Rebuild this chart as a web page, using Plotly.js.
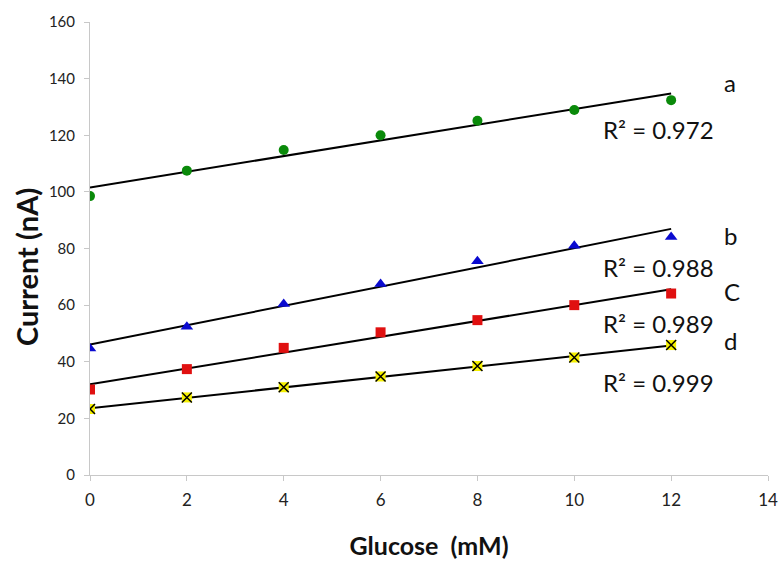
<!DOCTYPE html>
<html>
<head>
<meta charset="utf-8">
<script src="https://cdn.plot.ly/plotly-3.0.1.min.js"></script>
<style>html,body{margin:0;padding:0;background:#fff;}#chart{width:782px;height:567px;}</style>
</head>
<body>
<div id="chart"></div>
<script>
// Data
const glucose = [0, 2, 4, 6, 8, 10, 12];
const seriesA = [98.5, 107.5, 114.8, 120.0, 125.1, 128.9, 132.4];
const seriesB = [44.7, 52.4, 60.4, 67.5, 75.5, 81.0, 84.1];
const seriesC = [30.2, 37.4, 44.9, 50.4, 54.7, 60.0, 64.1];
const seriesD = [23.3, 27.4, 31.0, 34.8, 38.5, 41.5, 45.9];
const seriesLabels = ['a', 'b', 'C', 'd'];
const r2Labels = ['R\u00b2 = 0.972', 'R\u00b2 = 0.988', 'R\u00b2 = 0.989', 'R\u00b2 = 0.999'];
const xTicks = [0, 2, 4, 6, 8, 10, 12, 14];
const yTicks = [0, 20, 40, 60, 80, 100, 120, 140, 160];

function linFit(xs, ys) {
  const n = xs.length;
  const mx = xs.reduce((a, b) => a + b, 0) / n;
  const my = ys.reduce((a, b) => a + b, 0) / n;
  let sxy = 0, sxx = 0;
  for (let i = 0; i < n; i++) { sxy += (xs[i] - mx) * (ys[i] - my); sxx += (xs[i] - mx) ** 2; }
  const m = sxy / sxx, b = my - m * mx;
  const x0 = xs[0], x1 = xs[n - 1];
  return { x: [x0, x1], y: [m * x0 + b, m * x1 + b] };
}

const all = [seriesA, seriesB, seriesC, seriesD];
const traces = [];
all.forEach(s => {
  const f = linFit(glucose, s);
  traces.push({ x: f.x, y: f.y, mode: 'lines', line: { color: '#000', width: 2 }, hoverinfo: 'skip', showlegend: false });
});
traces.push({ x: glucose, y: seriesA, mode: 'markers', marker: { symbol: 'circle', size: 10, color: '#0a8a0a' }, showlegend: false });
traces.push({ x: glucose, y: seriesB, mode: 'markers', marker: { symbol: 'triangle-up', size: 11, color: '#0a0ad0' }, showlegend: false });
traces.push({ x: glucose, y: seriesC, mode: 'markers', marker: { symbol: 'square', size: 10, color: '#e01010' }, showlegend: false });
traces.push({ x: glucose, y: seriesD, mode: 'markers', marker: { symbol: 'square', size: 10, color: '#f5f000' }, showlegend: false });
traces.push({ x: glucose, y: seriesD, mode: 'markers', marker: { symbol: 'x-thin', size: 10, color: '#000', line: { color: '#000', width: 1.5 } }, showlegend: false });

const font = 'Lato, "Open Sans", sans-serif';
const labelPos = [[13.05, 138.5], [13.05, 84.7], [13.05, 64.8], [13.05, 47.5]];
const r2Pos = [[10.55, 122], [10.55, 73.2], [10.55, 53.5], [10.55, 32.5]];
const annotations = [];
seriesLabels.forEach((t, i) => {
  annotations.push({ x: labelPos[i][0], y: labelPos[i][1], text: t, showarrow: false, xanchor: 'left', font: { family: font, size: 24, color: '#111' } });
  annotations.push({ x: r2Pos[i][0], y: r2Pos[i][1], text: r2Labels[i], showarrow: false, xanchor: 'left', font: { family: font, size: 24, color: '#111' } });
});
annotations.push({
  xref: 'paper', yref: 'paper', x: -0.0944, y: 0.459, textangle: -90,
  text: '<b>Current (nA)</b>', showarrow: false, xanchor: 'center', yanchor: 'middle',
  font: { family: font, size: 29, color: '#111' }
});

const layout = {
  width: 782, height: 567,
  margin: { l: 90, r: 14, t: 22, b: 92 },
  paper_bgcolor: '#fff', plot_bgcolor: '#fff',
  font: { family: font, color: '#222' },
  xaxis: {
    range: [0, 14], tickvals: xTicks, ticktext: xTicks.map(String),
    showgrid: false, zeroline: false, showline: true, linecolor: '#c8c8c8', linewidth: 1,
    ticks: 'outside', ticklen: 5, tickcolor: '#c8c8c8', ticklabelstandoff: 5,
    tickfont: { family: font, size: 17, color: '#222' },
    title: { text: '<b>Glucose  (mM)</b>', font: { family: font, size: 25, color: '#111' }, standoff: 28 }
  },
  yaxis: {
    range: [0, 160], tickvals: yTicks, ticktext: yTicks.map(String),
    showgrid: false, zeroline: false, showline: true, linecolor: '#c8c8c8', linewidth: 1,
    ticks: 'outside', ticklen: 5, tickcolor: '#c8c8c8', ticklabelstandoff: 6,
    tickfont: { family: font, size: 15, color: '#222' }
  },
  annotations: annotations,
  showlegend: false
};

Plotly.newPlot('chart', traces, layout, { displayModeBar: false, staticPlot: true });
</script>
</body>
</html>
